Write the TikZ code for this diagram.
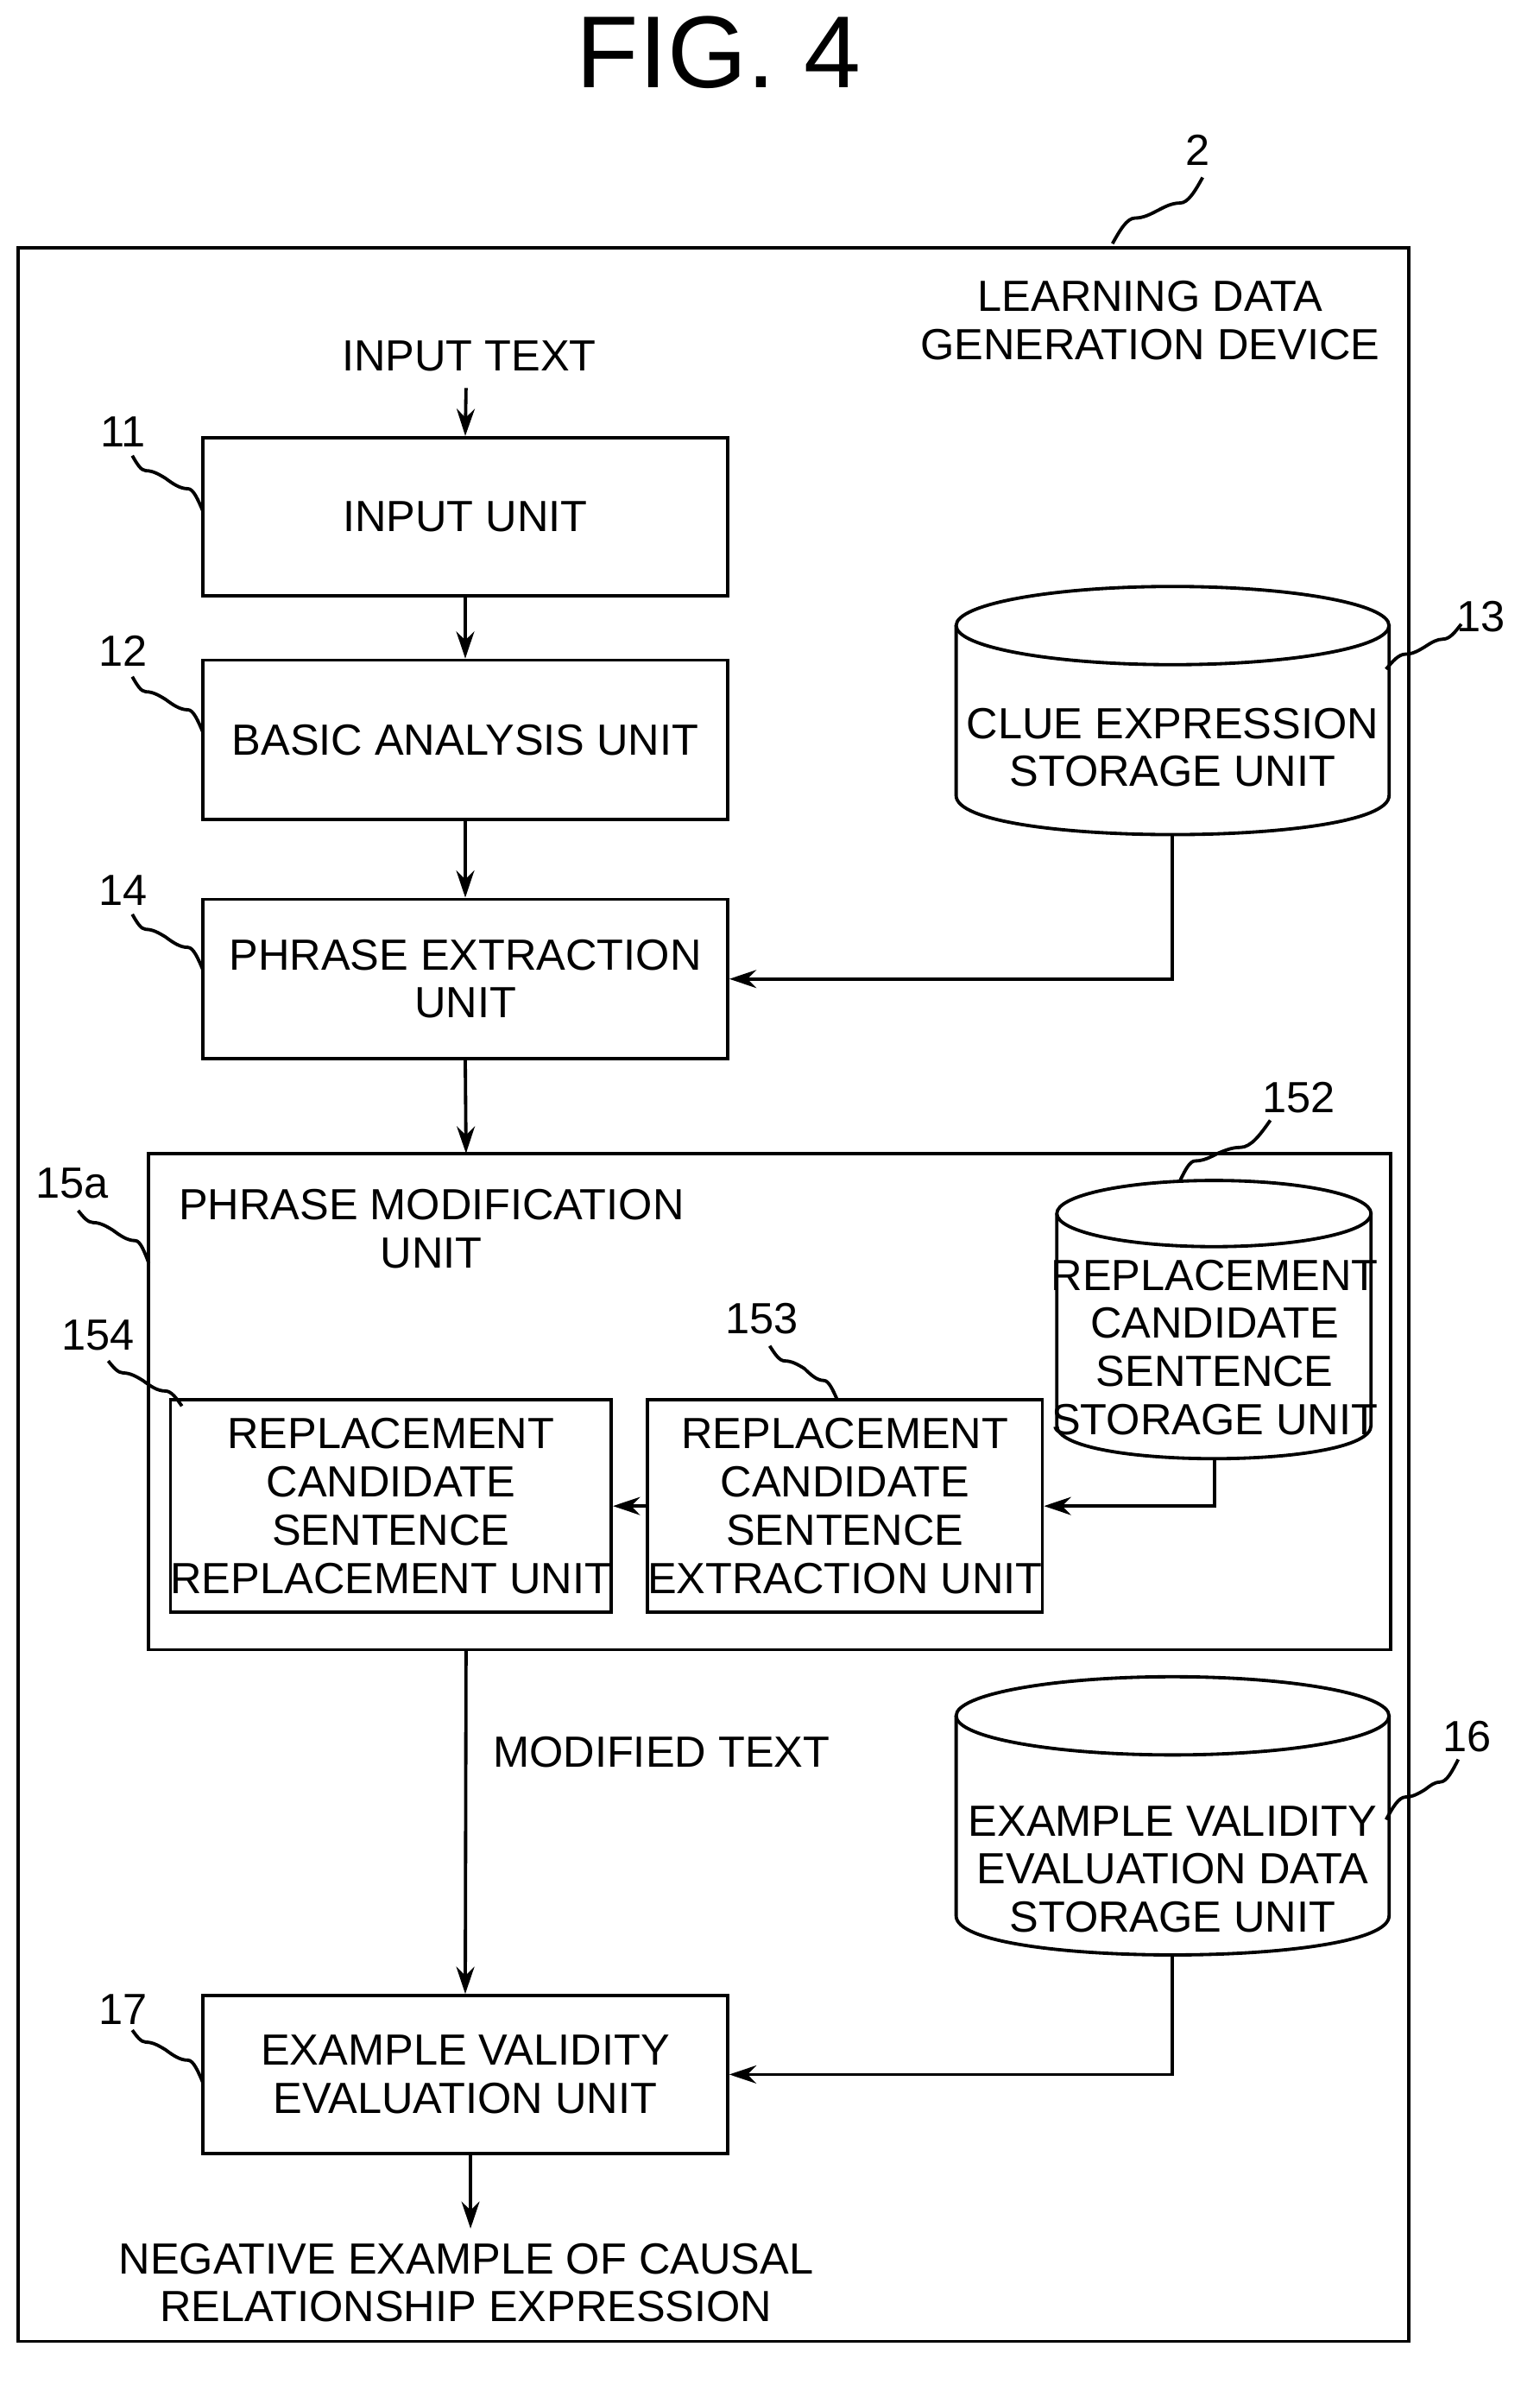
\documentclass[tikz,border=0pt]{standalone}
\usepackage{fontspec}
\setmainfont{Liberation Sans}
\usetikzlibrary{arrows.meta}
\begin{document}
\begin{tikzpicture}[x=0.5pt,y=-0.5pt,line width=1.1pt,
  box/.style={draw,minimum width=174.5pt,align=center,font=\fontsize{14.5}{16}\selectfont},
  txt/.style={align=center,font=\fontsize{14.5}{16}\selectfont,inner sep=0pt},
  arr/.style={-{Stealth[length=9pt,width=6pt]}},
  lab/.style={font=\fontsize{14.5}{16}\selectfont,inner sep=0pt}]
\useasboundingbox (0,0) rectangle (1024,1590);
\node[font=\fontsize{34}{36}\selectfont] (title) at (478,35) {FIG. 4};
% outer
\draw (12,165) rectangle (937,1557);
\node[lab] (l2) at (797,100) {2};
\draw (740,162) sin (755,145) cos (770,140) sin (785,135) cos (800,118);
\node[txt] (dev) at (765,213) {LEARNING DATA\\GENERATION DEVICE};
% boxes
\node[txt] (intext) at (312,237) {INPUT TEXT};
\node[draw,box,minimum height=52.5pt] (in) at (309.5,343.5) {INPUT UNIT};
\node[draw,box,minimum height=53pt] (ba) at (309.5,492) {BASIC ANALYSIS UNIT};
\node[draw,box,minimum height=53pt] (pe) at (309.5,651) {PHRASE EXTRACTION\\UNIT};
\node[draw,box,minimum height=52.5pt] (ev) at (309.5,1379.5) {EXAMPLE VALIDITY\\EVALUATION UNIT};
\draw[arr] (310,258) -- (in.north);
\draw[arr] (in.south) -- (ba.north);
\draw[arr] (ba.south) -- (pe.north);
% cylinders
\newcommand{\cyl}[5]{% left top right bottom ry
  \fill[white] (#1,#2+#5) -- (#1,#4-#5) .. controls (#1,#4-#5+#5*4/3) and (#3,#4-#5+#5*4/3) .. (#3,#4-#5) -- (#3,#2+#5) -- cycle;
  \draw (#1,#2+#5) -- (#1,#4-#5) .. controls (#1,#4-#5+#5*4/3) and (#3,#4-#5+#5*4/3) .. (#3,#4-#5) -- (#3,#2+#5);
  \draw ({(#1+#3)/2},#2+#5) ellipse [x radius={(#3-#1)/2}, y radius=#5];}
\cyl{636}{390}{924}{555}{26}
\node[txt] (clue) at (780,497) {CLUE EXPRESSION\\STORAGE UNIT};
\coordinate (clueb) at (780,555);
\draw[arr] (clueb) |- (pe.east);
\node[lab] (l13) at (985,410) {13};
\draw (922,445) sin (935,435) cos (948,430) sin (960,425) cos (972,415);
% phrase modification
\draw (99,767) rectangle (925,1097);
\coordinate (pmt) at (310,767);
\coordinate (pmb) at (310,1097);
\draw[arr] (pe.south) -- (pmt);
\node[txt] (pm) at (287,817) {PHRASE MODIFICATION\\UNIT};
\cyl{703}{785}{912}{970}{22}
\node[txt] (rcs) at (808,896) {REPLACEMENT\\CANDIDATE\\SENTENCE\\STORAGE UNIT};
\coordinate (rcsb) at (808,970);
\node[draw,txt,minimum width=124pt,minimum height=70.5pt] (b153) at (562,1001.5) {REPLACEMENT\\CANDIDATE\\SENTENCE\\EXTRACTION UNIT};
\node[draw,txt,minimum width=139pt,minimum height=70.5pt] (b154) at (260,1001.5) {REPLACEMENT\\CANDIDATE\\SENTENCE\\REPLACEMENT UNIT};
\draw[arr] (rcsb) |- (b153.east);
\draw[arr] (b153.west) -- (b154.east);
\node[lab] (l152) at (864,730) {152};
\draw (785,785) sin (795,772) cos (810,767) sin (825,763) cos (845,745);
\node[lab] (l153) at (507,877) {153};
\draw (557,931) sin (548,918) cos (535,910) sin (522,905) cos (512,895);
\node[lab] (l154) at (65,888) {154};
\draw (121,935) sin (110,925) cos (95,918) sin (82,913) cos (72,905);
\node[lab] (l15a) at (48,787) {15a};
\draw (99,840) sin (90,825) cos (75,818) sin (62,813) cos (52,805);
% modified text
\draw[arr] (pmb) -- (ev.north);
\node[txt] (mt) at (440,1165) {MODIFIED TEXT};
\cyl{636}{1115}{924}{1300}{26}
\node[txt] (evd) at (780,1243) {EXAMPLE VALIDITY\\EVALUATION DATA\\STORAGE UNIT};
\coordinate (evdb) at (780,1300);
\draw[arr] (evdb) |- (ev.east);
\node[lab] (l16) at (976,1155) {16};
\draw (922,1210) sin (935,1195) cos (948,1190) sin (958,1185) cos (970,1170);
% output
\node[txt] (neg) at (310,1518) {NEGATIVE EXAMPLE OF CAUSAL\\RELATIONSHIP EXPRESSION};
\draw[arr] (313,1432) -- (313,1482);
% left labels
\node[lab] (l11) at (82,287) {11};
\draw (135,340) sin (125,325) cos (110,318) sin (97,313) cos (88,303);
\node[lab] (l12) at (82,433) {12};
\draw (135,487) sin (125,472) cos (110,465) sin (97,460) cos (88,450);
\node[lab] (l14) at (82,592) {14};
\draw (135,645) sin (125,630) cos (110,623) sin (97,618) cos (88,608);
\node[lab] (l17) at (82,1336) {17};
\draw (135,1385) sin (125,1370) cos (110,1363) sin (97,1358) cos (88,1350);
\end{tikzpicture}
\end{document}
